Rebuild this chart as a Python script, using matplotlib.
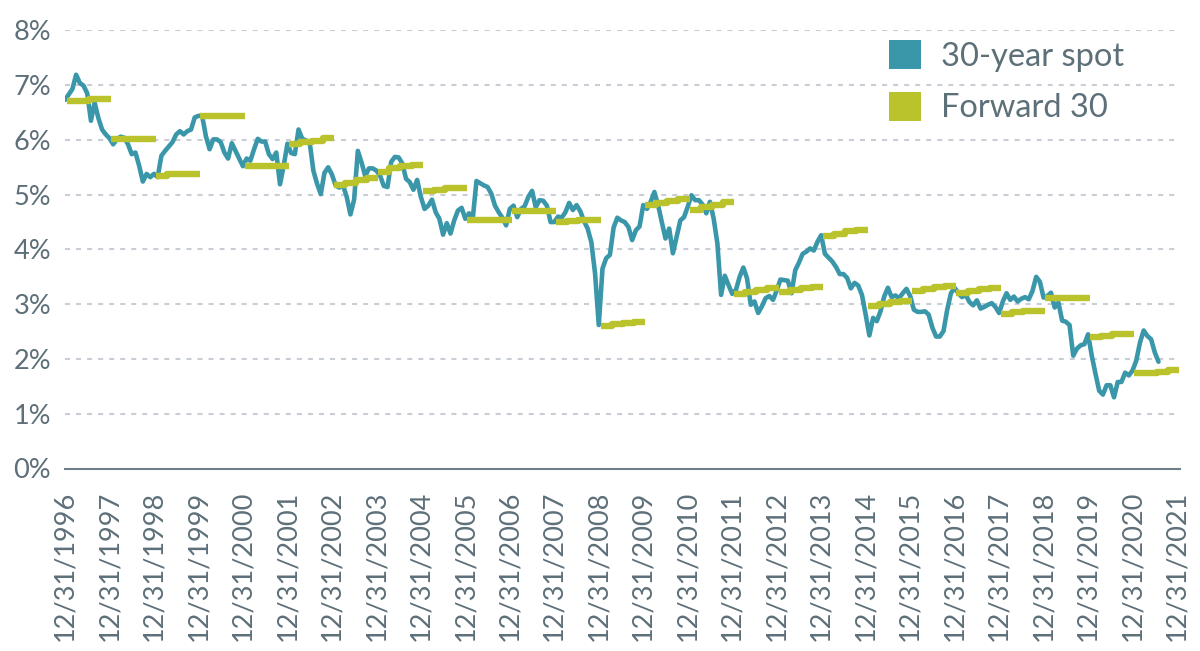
import matplotlib.pyplot as plt
from matplotlib.patches import Patch
import numpy as np

# 30-year spot rate, month-end values starting 12/31/1996 (%)
spot = [
    6.73, 6.83, 6.93, 7.19, 7.04, 6.99, 6.85, 6.35, 6.68, 6.40, 6.19, 6.10,
    6.03, 5.92, 6.01, 6.06, 6.04, 5.92, 5.74, 5.77, 5.53, 5.24, 5.38, 5.32,
    5.38, 5.32, 5.71, 5.80, 5.88, 5.96, 6.10, 6.16, 6.10, 6.16, 6.19, 6.41,
    6.44, 6.44, 6.07, 5.83, 6.01, 6.01, 5.96, 5.77, 5.66, 5.94, 5.80, 5.66,
    5.52, 5.66, 5.62, 5.83, 6.02, 5.97, 5.97, 5.74, 5.65, 5.77, 5.19, 5.53,
    5.93, 5.76, 5.74, 6.19, 6.02, 5.99, 5.96, 5.44, 5.20, 5.01, 5.40, 5.50,
    5.37, 5.17, 5.13, 5.17, 4.96, 4.64, 4.91, 5.80, 5.59, 5.34, 5.48, 5.48,
    5.44, 5.35, 5.16, 5.14, 5.60, 5.69, 5.68, 5.57, 5.29, 5.23, 5.09, 5.27,
    4.96, 4.74, 4.80, 4.91, 4.68, 4.56, 4.27, 4.48, 4.29, 4.53, 4.71, 4.76,
    4.56, 4.66, 4.56, 5.25, 5.21, 5.17, 5.14, 5.02, 4.80, 4.68, 4.58, 4.44,
    4.74, 4.80, 4.59, 4.74, 4.79, 4.96, 5.07, 4.77, 4.90, 4.89, 4.80, 4.50,
    4.50, 4.60, 4.58, 4.68, 4.85, 4.72, 4.81, 4.70, 4.52, 4.38, 4.13, 3.56,
    2.62, 3.65, 3.84, 3.90, 4.40, 4.58, 4.53, 4.50, 4.41, 4.17, 4.35, 4.42,
    4.81, 4.74, 4.87, 5.05, 4.81, 4.50, 4.20, 4.38, 3.93, 4.23, 4.53, 4.59,
    4.78, 4.99, 4.90, 4.90, 4.82, 4.66, 4.87, 4.56, 4.11, 3.17, 3.52, 3.35,
    3.19, 3.26, 3.50, 3.67, 3.47, 2.99, 3.05, 2.84, 2.96, 3.11, 3.15, 3.08,
    3.25, 3.45, 3.44, 3.43, 3.20, 3.62, 3.76, 3.92, 3.96, 4.02, 3.98, 4.14,
    4.26, 3.92, 3.85, 3.78, 3.68, 3.55, 3.55, 3.48, 3.29, 3.39, 3.34, 3.17,
    2.81, 2.43, 2.75, 2.69, 2.87, 3.14, 3.30, 3.13, 3.16, 3.11, 3.20, 3.28,
    3.15, 2.90, 2.86, 2.86, 2.87, 2.81, 2.57, 2.41, 2.41, 2.51, 2.90, 3.20,
    3.30, 3.20, 3.13, 3.17, 3.04, 2.98, 3.07, 2.92, 2.95, 2.99, 3.02, 2.95,
    2.84, 3.05, 3.20, 3.08, 3.14, 3.05, 3.10, 3.13, 3.09, 3.24, 3.50, 3.41,
    3.12, 3.15, 3.21, 2.94, 3.03, 2.70, 2.68, 2.62, 2.06, 2.19, 2.25, 2.27,
    2.45, 2.06, 1.73, 1.42, 1.35, 1.52, 1.52, 1.30, 1.58, 1.58, 1.75, 1.70,
    1.79, 1.97, 2.30, 2.52, 2.42, 2.36, 2.12, 1.95,
]

# Forward 30 path for the year after each year-end, quarterly levels (%)
forward = [
    [6.71, 6.71, 6.75, 6.75],
    [6.01, 6.01, 6.01, 6.01],
    [5.35, 5.37, 5.37, 5.37],
    [6.44, 6.44, 6.44, 6.44],
    [5.53, 5.53, 5.53, 5.53],
    [5.93, 5.96, 5.98, 6.03],
    [5.17, 5.21, 5.26, 5.31],
    [5.41, 5.48, 5.52, 5.55],
    [5.06, 5.09, 5.13, 5.13],
    [4.53, 4.53, 4.53, 4.53],
    [4.70, 4.70, 4.70, 4.70],
    [4.50, 4.52, 4.53, 4.53],
    [2.60, 2.63, 2.65, 2.68],
    [4.81, 4.85, 4.88, 4.93],
    [4.72, 4.77, 4.82, 4.86],
    [3.19, 3.23, 3.26, 3.29],
    [3.23, 3.26, 3.29, 3.32],
    [4.24, 4.29, 4.33, 4.36],
    [2.96, 3.01, 3.04, 3.05],
    [3.25, 3.28, 3.31, 3.33],
    [3.20, 3.25, 3.27, 3.29],
    [2.82, 2.85, 2.87, 2.88],
    [3.11, 3.11, 3.11, 3.11],
    [2.41, 2.42, 2.45, 2.45],
    [1.75, 1.75, 1.77, 1.80],
]

years = list(range(1996, 2022))
tick_labels = [f"12/31/{y}" for y in years]

SPOT_COL = "#3a97aa"
FWD_COL = "#bac32c"
TXT_COL = "#5d6f78"
GRID_COL = "#c9cdd6"

plt.rcParams['font.family'] = ['Lato', 'DejaVu Sans']

fig = plt.figure(figsize=(12, 6.51), dpi=100)
ax = fig.add_axes([65 / 1200, 1 - 468.5 / 651, 1115 / 1200, 438.1 / 651])

# gridlines
for v in range(1, 9):
    ax.axhline(v, color=GRID_COL, lw=1.5, linestyle=(0, (2.4, 2.9)), zorder=1)

months = np.arange(len(spot))
ax.plot(months, spot, color=SPOT_COL, lw=3.3, solid_joinstyle='round',
        solid_capstyle='round', zorder=3)

for k, seg in enumerate(forward):
    xs = 12 * k + 0.5 + np.arange(0, 13, 3)
    ys = seg + [seg[-1]]
    ax.plot(xs, ys, color=FWD_COL, lw=4.6, drawstyle='steps-post',
            solid_capstyle='butt', zorder=4)

ax.set_ylim(0, 8)
ax.set_xlim(0, 300.8)
ax.set_yticks(range(0, 9))
ax.set_yticklabels([f"{v}%" for v in range(0, 9)])
ax.set_xticks([12 * i for i in range(len(years))])
ax.set_xticklabels(tick_labels, rotation=90, va='top', ha='center')

ax.tick_params(axis='both', length=0, colors=TXT_COL, labelsize=19.5)
ax.tick_params(axis='y', pad=10)
ax.tick_params(axis='x', pad=16)
for side in ['top', 'right', 'left']:
    ax.spines[side].set_visible(False)
ax.spines['bottom'].set_color('#6f7f88')
ax.spines['bottom'].set_linewidth(1.5)

handles = [Patch(facecolor=SPOT_COL, edgecolor='none'),
           Patch(facecolor=FWD_COL, edgecolor='none')]
leg = fig.legend(handles, ['30-year spot', 'Forward 30'], loc='upper left',
                 bbox_to_anchor=(889 / 1200, 1 - 40 / 651), frameon=False,
                 fontsize=23.5, handlelength=0.98, handleheight=0.98,
                 handletextpad=0.62, labelspacing=0.62, borderpad=0,
                 borderaxespad=0)
for t in leg.get_texts():
    t.set_color(TXT_COL)

fig.savefig("out.png", dpi=100)
